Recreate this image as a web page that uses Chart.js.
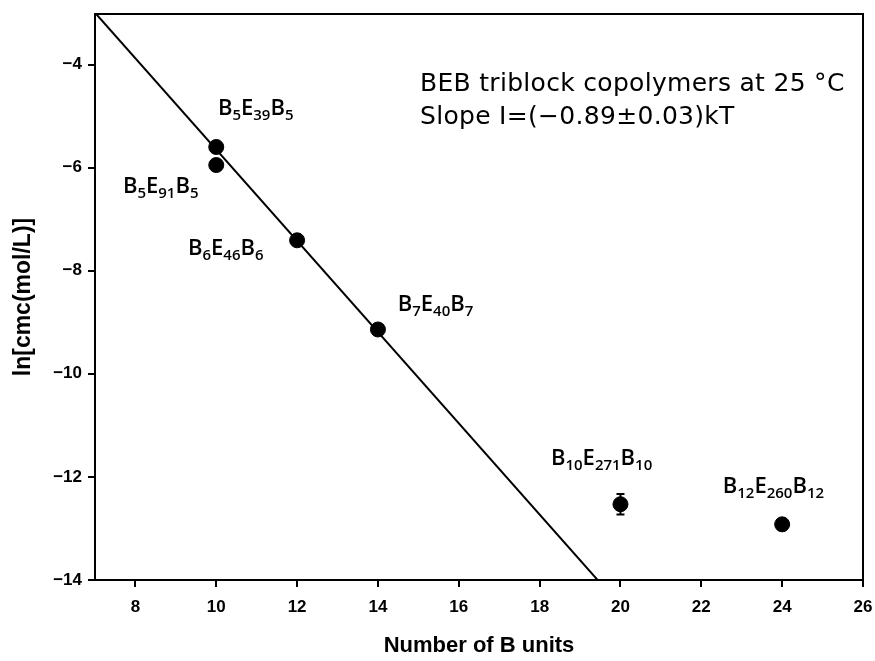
<!DOCTYPE html>
<html>
<head>
<meta charset="utf-8">
<script src="https://cdn.jsdelivr.net/npm/chart.js@4/dist/chart.umd.min.js"></script>
<style>
  html, body { margin: 0; padding: 0; background: #fff; }
  #wrap { width: 875px; height: 661px; }
</style>
</head>
<body>
<div id="wrap"><canvas id="c" width="875" height="661"></canvas></div>
<script>
// Number of hydrophobic B units in each BEB copolymer
const nB = [10, 10, 12, 14, 20, 24];
// ln of the critical micelle concentration (mol/L)
const lnCmc = [-5.60, -5.95, -7.41, -9.14, -12.53, -12.92];
// uncertainty in ln(cmc)
const lnCmcErr = [0, 0, 0, 0, 0.2, 0];

// copolymer names: [block letter, subscript] pieces
const names = [
  [["B", "5"], ["E", "39"], ["B", "5"]],
  [["B", "5"], ["E", "91"], ["B", "5"]],
  [["B", "6"], ["E", "46"], ["B", "6"]],
  [["B", "7"], ["E", "40"], ["B", "7"]],
  [["B", "10"], ["E", "271"], ["B", "10"]],
  [["B", "12"], ["E", "260"], ["B", "12"]]
];
// where each name starts (left edge, text baseline) in axis units
const nameX = [10.04, 7.69, 9.30, 14.49, 18.28, 22.53];
const nameY = [-4.97, -6.49, -7.69, -8.78, -11.76, -12.31];

// linear fit of the first four points
const fitSlope = -0.885;
const fitIntercept = 3.20;
const fitRangeX = [7, 20];

const xTicks = [8, 10, 12, 14, 16, 18, 20, 22, 24, 26];
const yTicks = [-14, -12, -10, -8, -6, -4];

const noteLines = ["BEB triblock copolymers at 25 \u00B0C", "Slope I=(\u22120.89\u00B10.03)kT"];
const noteX = 15.04;
const noteY = [-4.52, -5.16];

const axisFont = "'Liberation Sans Narrow', 'Liberation Sans', Arial, sans-serif";

const points = nB.map((x, i) => ({ x: x, y: lnCmc[i] }));
const fitLine = fitRangeX.map(x => ({ x: x, y: fitIntercept + fitSlope * x }));

// frame, error bars and text labels
const decor = {
  id: 'decor',
  afterDatasetsDraw(chart) {
    const ctx = chart.ctx;
    const xs = chart.scales.x, ys = chart.scales.y;
    const a = chart.chartArea;
    ctx.save();
    // error bars
    ctx.strokeStyle = '#000';
    ctx.lineWidth = 2;
    nB.forEach((x, i) => {
      if (!lnCmcErr[i]) return;
      const px = xs.getPixelForValue(x);
      const y1 = ys.getPixelForValue(lnCmc[i] + lnCmcErr[i]);
      const y2 = ys.getPixelForValue(lnCmc[i] - lnCmcErr[i]);
      ctx.beginPath();
      ctx.moveTo(px, y1); ctx.lineTo(px, y2);
      ctx.moveTo(px - 4, y1); ctx.lineTo(px + 4, y1);
      ctx.moveTo(px - 4, y2); ctx.lineTo(px + 4, y2);
      ctx.stroke();
    });
    // box round the plot
    ctx.lineWidth = 2;
    ctx.strokeRect(a.left, a.top, a.right - a.left, a.bottom - a.top);

    // copolymer names with subscripts
    ctx.fillStyle = '#000';
    ctx.textBaseline = 'alphabetic';
    ctx.textAlign = 'left';
    const big = "600 22px 'Open Sans', sans-serif";
    const small = "600 15px 'Open Sans', sans-serif";
    names.forEach((parts, i) => {
      let px = xs.getPixelForValue(nameX[i]);
      const py = ys.getPixelForValue(nameY[i]);
      parts.forEach(([letter, sub]) => {
        ctx.font = big;
        ctx.fillText(letter, px, py);
        px += ctx.measureText(letter).width;
        ctx.font = small;
        ctx.fillText(sub, px, py + 5);
        px += ctx.measureText(sub).width;
      });
    });

    // note in the upper right
    ctx.font = "25px 'DejaVu Sans', sans-serif";
    if ('letterSpacing' in ctx) ctx.letterSpacing = '0.3px';
    noteLines.forEach((t, i) => {
      ctx.fillText(t, xs.getPixelForValue(noteX), ys.getPixelForValue(noteY[i]));
    });
    ctx.restore();
  }
};

new Chart(document.getElementById('c'), {
  type: 'scatter',
  data: {
    datasets: [
      {
        label: 'ln cmc',
        data: points,
        backgroundColor: '#000',
        borderColor: '#000',
        pointRadius: 7.5,
        pointHoverRadius: 7.5,
        order: 1
      },
      {
        type: 'line',
        label: 'fit',
        data: fitLine,
        borderColor: '#000',
        borderWidth: 2,
        pointRadius: 0,
        fill: false,
        tension: 0,
        order: 2
      }
    ]
  },
  options: {
    responsive: false,
    animation: false,
    events: [],
    layout: { padding: { top: 14, right: 12, left: 0, bottom: 0 } },
    plugins: { legend: { display: false }, tooltip: { enabled: false } },
    scales: {
      x: {
        type: 'linear',
        min: 7,
        max: 26,
        afterBuildTicks(s) { s.ticks = xTicks.map(v => ({ value: v })); },
        afterFit(s) { s.height = 81; s.paddingLeft = 0; s.paddingRight = 0; },
        grid: { drawOnChartArea: false, drawTicks: true, tickLength: 7, color: '#000', lineWidth: 2 },
        border: { display: true, color: '#000', width: 2 },
        ticks: { color: '#000', padding: 10, font: { family: axisFont, size: 17, weight: 'bold' } },
        title: {
          display: true,
          text: 'Number of B units',
          color: '#000',
          font: { family: axisFont, size: 22, weight: 'bold', lineHeight: 1.2 },
          padding: { top: 0, bottom: 2 }
        }
      },
      y: {
        type: 'linear',
        min: -14,
        max: -3.02,
        afterBuildTicks(s) { s.ticks = yTicks.map(v => ({ value: v })); },
        afterFit(s) { s.width = 95; s.paddingTop = 0; s.paddingBottom = 0; },
        grid: { drawOnChartArea: false, drawTicks: true, tickLength: 7, color: '#000', lineWidth: 2 },
        border: { display: true, color: '#000', width: 2 },
        ticks: {
          color: '#000', padding: 6,
          font: { family: axisFont, size: 17, weight: 'bold' },
          callback: v => String(v).replace('-', '\u2212')
        },
        title: {
          display: true,
          text: 'ln[cmc(mol/L)]',
          color: '#000',
          font: { family: axisFont, size: 23, weight: 'bold', lineHeight: 1.2 },
          padding: { top: 10, bottom: 0 }
        }
      }
    }
  },
  plugins: [decor]
});
</script>
</body>
</html>
